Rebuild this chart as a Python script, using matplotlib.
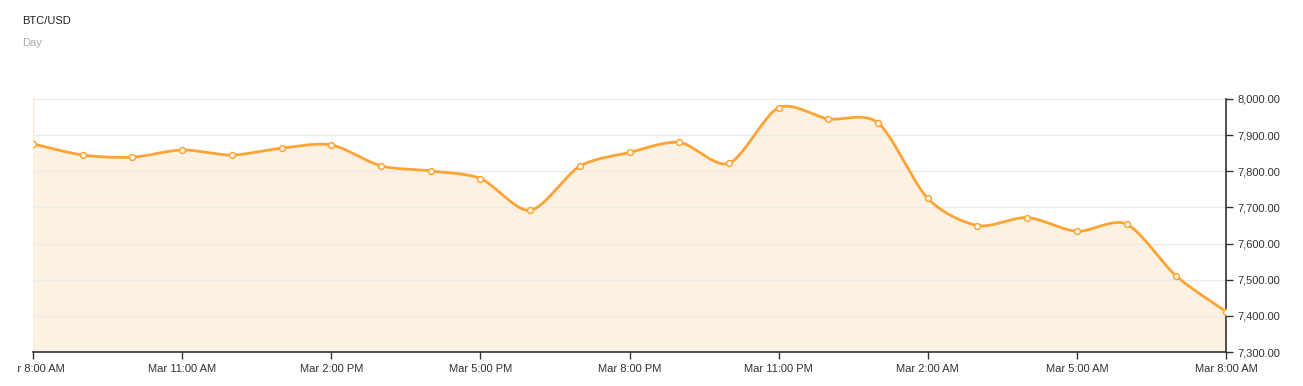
import numpy as np
import matplotlib
matplotlib.use("Agg")
import matplotlib.pyplot as plt
from matplotlib.transforms import Bbox

plt.rcParams['font.family'] = ['Liberation Sans', 'DejaVu Sans']

# ---- data ----
title = "BTC/USD"
subtitle = "Day"
hours = list(range(25))  # hourly points, Mar 8:00 AM -> next 8:00 AM
prices = [7876, 7845, 7839, 7859, 7845, 7864, 7873, 7815, 7801, 7780,
          7692, 7814, 7852, 7880, 7822, 7976, 7945, 7934, 7725, 7650,
          7672, 7634, 7654, 7510, 7412]
xtick_pos = [0, 3, 6, 9, 12, 15, 18, 21, 24]
xtick_labels = ["Mar 8:00 AM", "Mar 11:00 AM", "Mar 2:00 PM", "Mar 5:00 PM",
                "Mar 8:00 PM", "Mar 11:00 PM", "Mar 2:00 AM", "Mar 5:00 AM",
                "Mar 8:00 AM"]
ytick_vals = [7300, 7400, 7500, 7600, 7700, 7800, 7900, 8000]

LINE = '#ffa434'
FILL = '#fdf1e2'

def cardinal(x, y, tension=0.15, n=30):
    x = np.asarray(x, float); y = np.asarray(y, float)
    px = np.concatenate([[x[0]], x, [x[-1]]])
    py = np.concatenate([[y[0]], y, [y[-1]]])
    k = (1 - tension) / 2
    xs, ys = [], []
    t = np.linspace(0, 1, n, endpoint=False)
    for i in range(1, len(px) - 2):
        p0x, p1x, p2x, p3x = px[i-1:i+3]
        p0y, p1y, p2y, p3y = py[i-1:i+3]
        m1x, m2x = k * (p2x - p0x), k * (p3x - p1x)
        m1y, m2y = k * (p2y - p0y), k * (p3y - p1y)
        h00 = 2*t**3 - 3*t**2 + 1; h10 = t**3 - 2*t**2 + t
        h01 = -2*t**3 + 3*t**2;   h11 = t**3 - t**2
        xs.append(h00*p1x + h10*m1x + h01*p2x + h11*m2x)
        ys.append(h00*p1y + h10*m1y + h01*p2y + h11*m2y)
    xs.append([x[-1]]); ys.append([y[-1]])
    return np.concatenate(xs), np.concatenate(ys)

W, H = 1303, 386
fig = plt.figure(figsize=(W/100, H/100), dpi=100)
ax = fig.add_axes([33/W, 1 - 352/H, (1226-33)/W, (352-99)/H])

sx, sy = cardinal(hours, prices)
ax.fill_between(sx, sy, ytick_vals[0], color=FILL, lw=0, zorder=1)
ax.plot(sx, sy, color=LINE, lw=2, zorder=3, solid_capstyle='round')
ax.plot(hours, prices, 'o', ms=4.2, mfc='white', mec=LINE, mew=1.1, zorder=4)

ax.set_xlim(hours[0], hours[-1])
ax.set_ylim(ytick_vals[0], ytick_vals[-1])

for v in ytick_vals[1:]:
    ax.axhline(v, color='#ebebeb' if v != 8000 else '#f2e8de', lw=1, zorder=2)
ax.axvline(0, color='#fdebd5', lw=1, zorder=0.5)

for s in ['top', 'left']:
    ax.spines[s].set_visible(False)
for s in ['bottom', 'right']:
    ax.spines[s].set_color('#333333')
    ax.spines[s].set_linewidth(1.2)

ax.set_xticks(xtick_pos)
ax.set_xticklabels(xtick_labels)
ax.yaxis.tick_right()
ax.set_yticks(ytick_vals)
ax.set_yticklabels([f"{v:,.2f}" for v in ytick_vals])
ax.tick_params(axis='both', colors='#333333', labelsize=8, length=5, width=1,
               labelcolor='#333333')
ax.tick_params(axis='x', pad=4)
ax.tick_params(axis='y', pad=3)

# clip the first x tick label at the left edge like the reference
clip = Bbox.from_extents(17, 0, W, H)
fig.canvas.draw()
first = ax.get_xticklabels()[0]
first.set_clip_box(clip)
first.set_clip_on(True)

fig.text(22/W, 1 - 21/H, title, fontsize=8, color='#222222', va='center', ha='left')
fig.text(22/W, 1 - 43/H, subtitle, fontsize=8, color='#aaaaaa', va='center', ha='left')

fig.savefig('out.png', dpi=100)
